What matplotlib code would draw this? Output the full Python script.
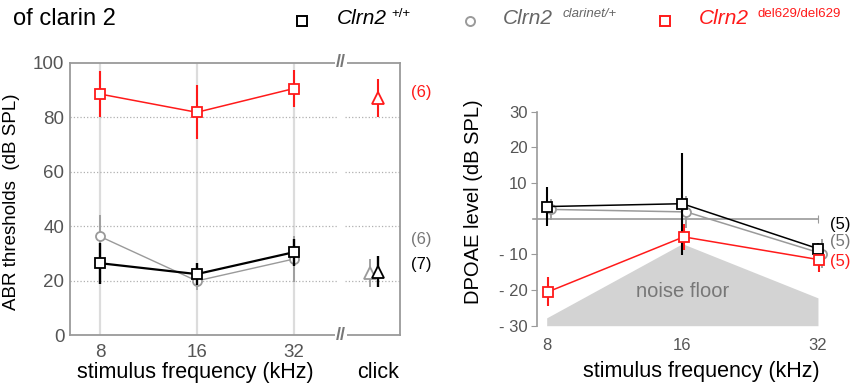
import numpy as np
import matplotlib
matplotlib.use('Agg')
import matplotlib.pyplot as plt
from matplotlib.lines import Line2D
from matplotlib.transforms import blended_transform_factory

plt.rcParams['font.family'] = ['Liberation Sans', 'DejaVu Sans']

# ---- data ----
freqs = ['8', '16', '32']
groups = ['+/+', 'clarinet/+', 'del629/del629']

# ABR thresholds (dB SPL), 8/16/32 kHz then click
abr_wt = [26.5, 22.5, 30.5]
abr_wt_err = [7.5, 4.0, 5.0]
abr_wt_click, abr_wt_click_err = 23.4, 5.6
abr_cl = [36.3, 20.0, 28.0]
abr_cl_err = [8.0, 3.5, 8.5]
abr_cl_click, abr_cl_click_err = 23.0, 5.2
abr_del = [88.5, 81.8, 90.5]
abr_del_err = [8.3, 9.9, 6.8]
abr_del_click, abr_del_click_err = 87.0, 7.0
abr_n = ['(7)', '(6)', '(6)']

# DPOAE level (dB SPL)
dp_wt = [3.4, 4.2, -8.4]
dp_wt_err = [5.4, 14.3, 1.5]
dp_cl = [2.6, 1.9, -9.8]
dp_cl_err = [3.0, 4.6, 4.0]
dp_del = [-20.5, -5.1, -11.5]
dp_del_err = [4.1, 3.7, 3.5]
noise_floor = [-27.8, -7.0, -22.2]
dp_n = ['(5)', '(5)', '(5)']

RED = '#ff1a1a'
GRAY = '#9a9a9a'
SPINE = '#9a9a9a'
TICK = '#555555'

x = np.arange(len(freqs))
click_x = 2.87

fig = plt.figure(figsize=(8.58, 3.87), dpi=100)

# ---------------- ABR panel ----------------
ax1 = fig.add_axes([0.0816, 0.1331, 0.3846, 0.705])
ax1.set_xlim(-0.31, 3.1)
ax1.set_ylim(0, 100)
for s in ax1.spines.values():
    s.set_color(SPINE)
    s.set_linewidth(1.3)
ax1.set_yticks([0, 20, 40, 60, 80, 100])
ax1.set_xticks(x)
ax1.set_xticklabels(freqs)
ax1.tick_params(length=0, labelsize=13.5, labelcolor=TICK, pad=6)
ax1.tick_params(axis='y', pad=4)

for xi in x:
    ax1.axvline(xi, color='#dcdcdc', lw=1.6, zorder=0)
ax1.hlines([20, 40, 60, 80], -0.31, 2.46, colors='#b0b0b0', linestyles=':', lw=0.9, zorder=0)
ax1.hlines([20, 40, 60, 80], 2.53, 3.1, colors='#b0b0b0', linestyles=':', lw=0.9, zorder=0)

mk = dict(markerfacecolor='white', markersize=6.5, markeredgewidth=1.3)
ax1.errorbar(x, abr_cl, yerr=abr_cl_err, color=GRAY, lw=1.0, elinewidth=1.3,
             marker='o', markeredgecolor=GRAY, zorder=3, **mk)
ax1.errorbar(x, abr_wt, yerr=abr_wt_err, color='black', lw=1.6, elinewidth=1.7,
             marker='s', markeredgecolor='black', zorder=4, **mk)
ax1.errorbar(x, abr_del, yerr=abr_del_err, color=RED, lw=1.1, elinewidth=1.5,
             marker='s', markeredgecolor=RED, zorder=4, **mk)

tri = dict(marker='^', markerfacecolor='white', markersize=8.5, markeredgewidth=1.3)
ax1.errorbar(click_x - 0.08, abr_cl_click, yerr=abr_cl_click_err, color=GRAY,
             elinewidth=1.3, markeredgecolor=GRAY, zorder=3, **tri)
ax1.errorbar(click_x, abr_wt_click, yerr=abr_wt_click_err, color='black',
             elinewidth=1.7, markeredgecolor='black', zorder=4, **tri)
ax1.errorbar(click_x, abr_del_click, yerr=abr_del_click_err, color=RED,
             elinewidth=1.5, markeredgecolor=RED, zorder=4, **tri)

# axis break marks
for yb in (0, 100):
    ax1.text(2.49, yb, '//', ha='center', va='center', fontsize=13, fontweight='bold',
             color='#777777', clip_on=False, zorder=6,
             bbox=dict(facecolor='white', edgecolor='none', pad=0.5))

# n labels
ax1.text(3.21, 89, abr_n[2], color=RED, fontsize=12, va='center', clip_on=False)
ax1.text(3.21, 35, abr_n[1], color='#777777', fontsize=12, va='center', clip_on=False)
ax1.text(3.21, 26, abr_n[0], color='black', fontsize=12, va='center', clip_on=False)

ax1.set_ylabel('ABR thresholds  (dB SPL)', fontsize=13.5)
ax1.yaxis.set_label_coords(-0.152, 0.49)
ax1.set_xlabel('stimulus frequency (kHz)', fontsize=15.5)
ax1.xaxis.set_label_coords(0.379, -0.134)
ax1.xaxis.label.set_va('center')
tr = blended_transform_factory(ax1.transData, ax1.transAxes)
ax1.text(click_x, -0.134, 'click', transform=tr, ha='center', va='center', fontsize=15.5)

# ---------------- DPOAE panel ----------------
ax2 = fig.add_axes([0.6261, 0.1584, 0.3383, 0.553])
ax2.set_xlim(-0.07, 2.07)
ax2.set_ylim(-30, 30)
ax2.spines['top'].set_visible(False)
ax2.spines['right'].set_visible(False)
ax2.spines['left'].set_color(SPINE)
ax2.spines['left'].set_linewidth(1.2)
ax2.spines['bottom'].set_position(('data', 0))
ax2.spines['bottom'].set_color(SPINE)
ax2.spines['bottom'].set_linewidth(1.2)
ax2.spines['bottom'].set_bounds(-0.1, 2)
ax2.set_xticks(x)
ax2.tick_params(axis='x', direction='inout', length=6, color=SPINE, labelbottom=False)
ax2.set_yticks([-30, -20, -10, 10, 20, 30])
ax2.set_yticklabels(['- 30', '- 20', '- 10', '10', '20', '30'])
ax2.tick_params(axis='y', length=4, color=SPINE, labelsize=12, labelcolor=TICK, pad=3)

sec = ax2.secondary_xaxis('bottom')
sec.set_xticks(x)
sec.set_xticklabels(freqs)
sec.spines['bottom'].set_visible(False)
sec.tick_params(length=0, labelsize=12, labelcolor=TICK, pad=9)

ax2.fill_between(x, noise_floor, -30, color='#d3d3d3', lw=0, zorder=0)
ax2.text(1.0, -20.4, 'noise floor', ha='center', va='center', fontsize=14.5,
         color='#777777', zorder=1)

ax2.errorbar(x + 0.03, dp_cl, yerr=dp_cl_err, color=GRAY, lw=1.1, elinewidth=1.3,
             marker='o', markeredgecolor=GRAY, zorder=3, **mk)
ax2.errorbar(x, dp_wt, yerr=dp_wt_err, color='black', lw=1.1, elinewidth=1.5,
             marker='s', markeredgecolor='black', zorder=4, **mk)
ax2.errorbar(x + 0.01, dp_del, yerr=dp_del_err, color=RED, lw=1.1, elinewidth=1.5,
             marker='s', markeredgecolor=RED, zorder=4, **mk)

ax2.text(2.09, -1.5, dp_n[0], color='black', fontsize=12, va='center', clip_on=False)
ax2.text(2.09, -6.5, dp_n[1], color='#777777', fontsize=12, va='center', clip_on=False)
ax2.text(2.09, -12.0, dp_n[2], color=RED, fontsize=12, va='center', clip_on=False)

ax2.set_ylabel('DPOAE level (dB SPL)', fontsize=14.5)
ax2.yaxis.set_label_coords(-0.187, 0.58)
ax2.set_xlabel('stimulus frequency (kHz)', fontsize=15.5)
ax2.xaxis.set_label_coords(0.564, -0.215)
ax2.xaxis.label.set_va('center')

# ---------------- header / key ----------------
W, H = 858, 387
fig.text(13 / W, 1 - 19 / H, 'of clarin 2', fontsize=17, va='center', ha='left')

key_colors = ['black', '#666666', RED]
key_edge = ['black', GRAY, RED]
key_markers = ['s', 'o', 's']
key_styles = ['normal', 'italic', 'normal']
marker_px = [302, 470, 665]
name_px = [337, 503, 699]
sup_px = [391, 563, 758]
for i, g in enumerate(groups):
    fig.add_artist(Line2D([marker_px[i] / W], [1 - 21 / H], transform=fig.transFigure,
                          ls='none', marker=key_markers[i], markersize=6.5,
                          markerfacecolor='white', markeredgecolor=key_edge[i],
                          markeredgewidth=1.4))
    fig.text(name_px[i] / W, 1 - 19 / H, 'Clrn2', fontsize=15, style='italic',
             color=key_colors[i], va='center', ha='left')
    fig.text(sup_px[i] / W, 1 - 14 / H, g, fontsize=9.5, style=key_styles[i],
             color=key_colors[i], va='center', ha='left')

fig.savefig('out.png', dpi=100)
